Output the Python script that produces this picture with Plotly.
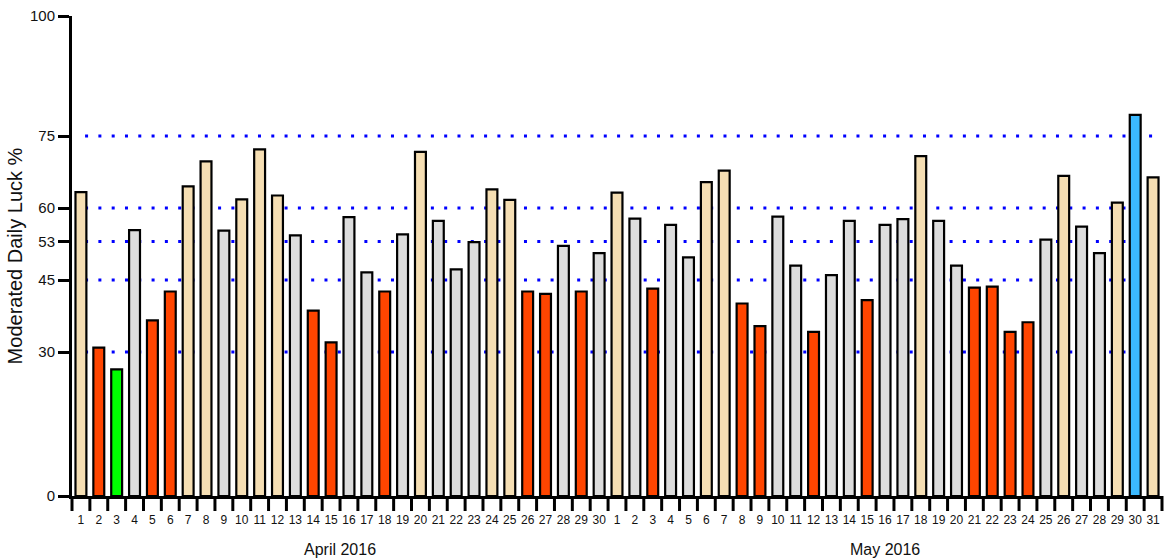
import plotly.graph_objects as go

# Moderated daily luck, April and May 2016
april_days = list(range(1, 31))
april_luck = [63.3, 30.9, 26.4, 55.4, 36.6, 42.6, 64.5, 69.7, 55.3, 61.8,
              72.2, 62.6, 54.3, 38.6, 32.0, 58.1, 46.6, 42.6, 54.5, 71.7,
              57.3, 47.2, 52.9, 63.9, 61.7, 42.6, 42.1, 52.1, 42.6, 50.6]
may_days = list(range(1, 32))
may_luck = [63.2, 57.8, 43.2, 56.5, 49.7, 65.4, 67.8, 40.1, 35.4, 58.2,
            48.0, 34.2, 46.0, 57.3, 40.8, 56.5, 57.7, 70.8, 57.3, 48.0,
            43.4, 43.6, 34.2, 36.2, 53.4, 66.7, 56.1, 50.6, 61.1, 79.4,
            66.4]
month_labels = ["April 2016", "May 2016"]

y_ticks = [0, 30, 45, 53, 60, 75, 100]
ref_levels = [30, 45, 53, 60, 75]

days = april_days + may_days
luck = april_luck + may_luck
xpos = list(range(len(luck)))
n_apr = len(april_days)
n_all = len(luck)

PLOT_H = 560 - 16 - 64          # plot area height in px
TICK_PX = 15                    # length of day-boundary tick marks


def band_colour(v):
    if v < 30:
        return "#00ff00"
    if v < 45:
        return "#ff4500"
    if v < 60:
        return "#dcdcdc"
    if v < 75:
        return "#f5deb3"
    return "#3bb9ff"


colours = [band_colour(v) for v in luck]

fig = go.Figure()
fig.add_trace(go.Bar(
    x=xpos, y=luck,
    marker=dict(color=colours, line=dict(color="#000000", width=2.2)),
    hoverinfo="skip",
))

# day-boundary tick marks hanging below the bottom axis (one per day edge)
for k in range(n_all + 1):
    xp = k / n_all
    fig.add_shape(type="line", xref="paper", yref="paper", x0=xp, x1=xp,
                  y0=0, y1=-TICK_PX / PLOT_H,
                  line=dict(color="#000000", width=3))

for lvl in ref_levels:
    fig.add_shape(type="line", xref="paper", yref="y", x0=0.012, x1=0.998,
                  y0=lvl, y1=lvl, layer="below",
                  line=dict(color="#0000ff", width=3, dash="3px,10.3px"))

fig.add_annotation(x=(n_apr - 1) / 2, y=-0.112, xref="x", yref="paper",
                   text=month_labels[0], showarrow=False, yanchor="middle",
                   font=dict(size=16, color="#111111"))
fig.add_annotation(x=(n_apr + n_all - 1) / 2, y=-0.112, xref="x", yref="paper",
                   text=month_labels[1], showarrow=False, yanchor="middle",
                   font=dict(size=16, color="#111111"))

fig.update_layout(
    width=1165, height=560,
    margin=dict(l=72, r=3, t=16, b=64),
    paper_bgcolor="white", plot_bgcolor="white",
    font=dict(family="Liberation Sans, Arial, sans-serif", color="#111111"),
    showlegend=False,
    bargap=0.39,
    xaxis=dict(
        range=[-0.5, n_all - 0.5],
        tickmode="array", tickvals=xpos, ticktext=[str(d) for d in days],
        ticks="outside", ticklen=11, tickcolor="rgba(0,0,0,0)",
        tickfont=dict(size=12),
        showline=True, linecolor="#000000", linewidth=3,
        showgrid=False, zeroline=False, fixedrange=True,
    ),
    yaxis=dict(
        range=[0, 100],
        tickmode="array", tickvals=y_ticks,
        ticks="outside", ticklen=11, tickwidth=3, tickcolor="#000000",
        tickfont=dict(size=15),
        showline=True, linecolor="#000000", linewidth=3,
        showgrid=False, zeroline=False,
        title=dict(text="Moderated Daily Luck %", font=dict(size=20),
                   standoff=2),
    ),
)

fig.write_html("out.html")
